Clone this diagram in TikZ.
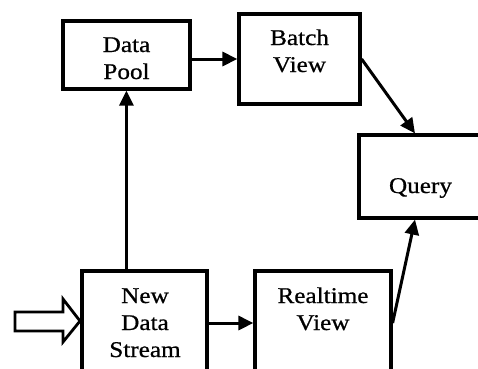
\documentclass[tikz,border=0pt]{standalone}
\usepackage{fontspec}
\setmainfont[FakeStretch=1.12,FakeBold=0.7]{Liberation Serif}
\usetikzlibrary{arrows.meta,calc}
\begin{document}
\begin{tikzpicture}[x=1pt,y=1pt,
 box/.style={draw, line width=3.2pt, rectangle, inner sep=0pt},
 lbl/.style={font=\fontsize{22.5}{27}\selectfont, align=center, anchor=base, inner sep=0pt},
 arr/.style={line width=3pt, -{Triangle[length=15pt,width=14pt]}},
 hollow/.style={draw, line width=2.8pt, line join=miter}]
\useasboundingbox (0,0) rectangle (478,368);
\node[box, minimum width=127, minimum height=68] (dp) at (126.5,313) {};
\node[box, minimum width=121, minimum height=90] (bv) at (299.5,309) {};
\node[box, minimum width=123, minimum height=83] (qu) at (420.5,191.5) {};
\node[box, minimum width=125, minimum height=104] (nds) at (144.5,45) {};
\node[box, minimum width=136, minimum height=104] (rt) at (323,45) {};
\node[lbl] (dpt) at (126.5,289) {Data\\Pool};
\node[lbl] (bvt) at (299.5,296) {Batch\\View};
\node[lbl] (qut) at (420.5,175) {Query};
\node[lbl] (ndst) at (145,11) {New\\Data\\Stream};
\node[lbl] (rtt) at (323,38) {Realtime\\View};
\draw[hollow] (15,56) -- (63,56) -- (63,69) -- (80,47) -- (63,26) -- (63,37) -- (15,37) -- cycle;
\draw[arr] ([xshift=46pt]nds.north west) -- ([xshift=65pt]dp.south west);
\draw[arr] (dp.east |- bv.west) -- (bv.west);
\draw[arr] (bv.east) -- ([xshift=-5.5pt]qu.north);
\draw[arr] (nds.east) -- (rt.west);
\draw[arr] (rt.east) -- ([xshift=-5.5pt]qu.south);
\end{tikzpicture}
\end{document}
